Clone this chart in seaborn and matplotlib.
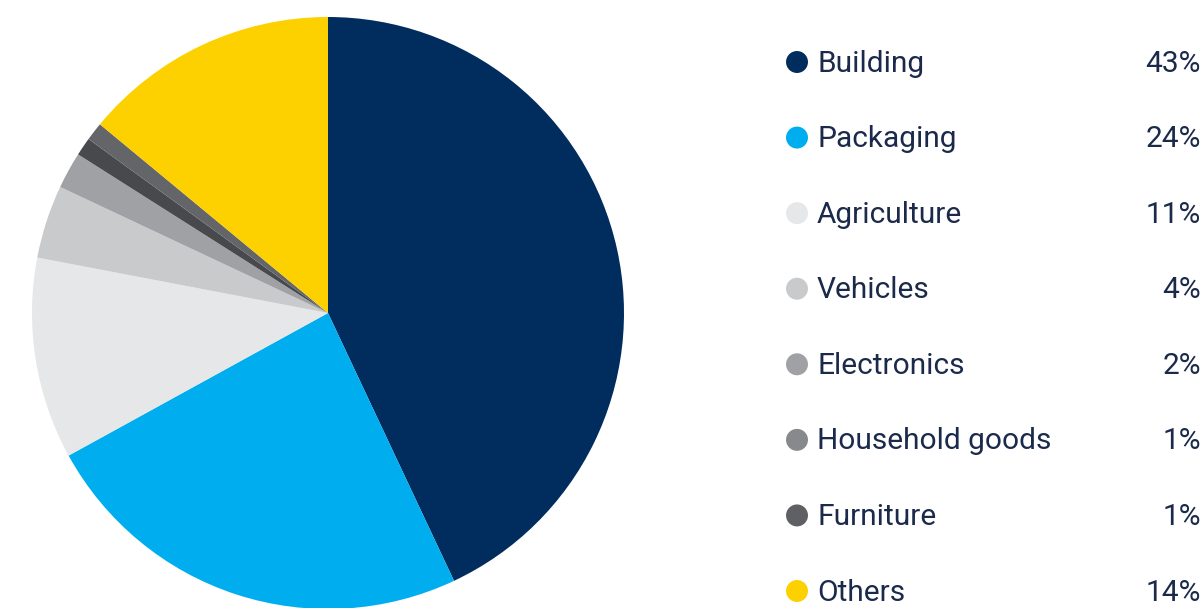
import matplotlib
matplotlib.use("Agg")
import matplotlib.pyplot as plt
import seaborn as sns
import pandas as pd

categories = ["Building", "Packaging", "Agriculture", "Vehicles", "Electronics",
              "Household goods", "Furniture", "Others"]
shares = [43, 24, 11, 4, 2, 1, 1, 14]
pct_labels = ["43%", "24%", "11%", "4%", "2%", "1%", "1%", "14%"]
pie_colors = ["#002D5E", "#00ADEE", "#E6E7E9", "#C9CACC", "#A0A1A4",
              "#48494C", "#646568", "#FDD000"]
legend_colors = ["#002D5E", "#00ADEE", "#E6E7E9", "#C9CACC", "#A0A1A4",
                 "#88898C", "#5F6063", "#FDD000"]

sns.set_theme(style="white")
plt.rcParams["font.family"] = ["Roboto", "DejaVu Sans"]
text_color = "#1B2A4A"

W, H = 1203, 608
fig = plt.figure(figsize=(W / 100, H / 100), dpi=100)

# Pie
ax = fig.add_axes([32 / W, (H - 609) / H, 592 / W, 592 / H])
ax.pie(shares, colors=pie_colors, startangle=90, counterclock=False,
       radius=1, wedgeprops=dict(linewidth=0, edgecolor="none"))
ax.set_xlim(-1, 1)
ax.set_ylim(-1, 1)
ax.set_aspect("equal")
ax.axis("off")

# Legend
lax = fig.add_axes([780 / W, 0, 423 / W, 1])
df = pd.DataFrame({"cat": categories, "row": range(len(categories)),
                   "x": [17] * len(categories)})
sns.scatterplot(data=df, x="x", y="row", hue="cat", palette=legend_colors,
                s=250, edgecolor="none", legend=False, ax=lax)
for i, (c, p) in enumerate(zip(categories, pct_labels)):
    lax.text(37, i + 0.02, c, ha="left", va="center", fontsize=21.5, color=text_color)
    lax.text(421, i + 0.02, p, ha="right", va="center", fontsize=21.5, color=text_color)
lax.set_xlim(0, 423)
lax.set_ylim(7 + 17 / 75.57, -62 / 75.57)
lax.axis("off")

fig.savefig("out.png", dpi=100)
